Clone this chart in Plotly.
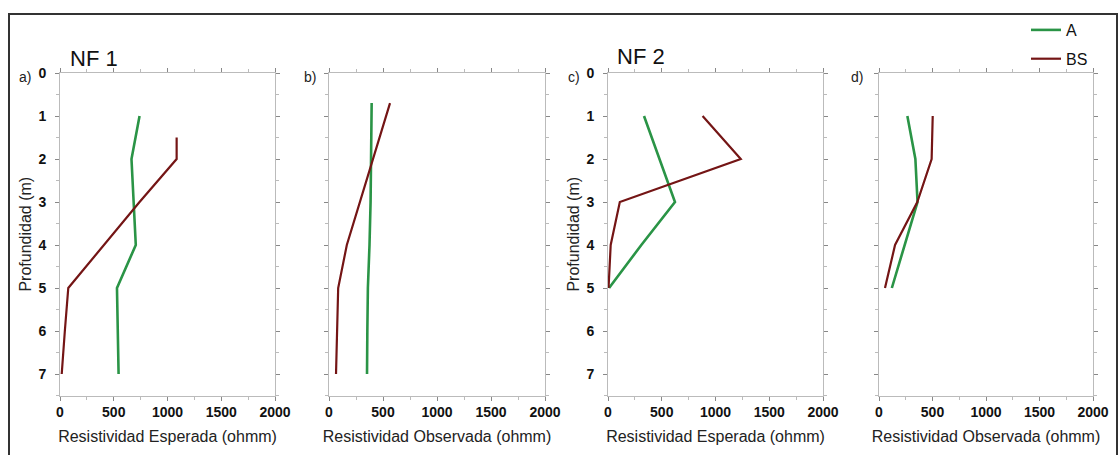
import plotly.graph_objects as go

# ---- data ----
# Panel a: NF 1, Resistividad Esperada
a_A_depth = [1, 2, 3, 4, 5, 6, 7]
a_A_res = [740, 665, 685, 705, 530, 535, 545]
a_BS_depth = [1.5, 2, 3, 4, 5, 6, 7]
a_BS_res = [1085, 1085, 740, 410, 77, 45, 16]

# Panel b: NF 1, Resistividad Observada
b_A_depth = [0.7, 2, 3, 4, 5, 6, 7]
b_A_res = [395, 390, 385, 375, 360, 355, 352]
b_BS_depth = [0.7, 2, 3, 4, 5, 6, 7]
b_BS_res = [565, 410, 290, 165, 85, 72, 65]

# Panel c: NF 2, Resistividad Esperada
c_A_depth = [1, 2, 3, 4, 5]
c_A_res = [335, 480, 623, 310, 10]
c_BS_depth = [1, 2, 3, 4, 5]
c_BS_res = [880, 1235, 110, 25, 5]

# Panel d: NF 2, Resistividad Observada
d_A_depth = [1, 2, 3, 4, 5]
d_A_res = [265, 340, 360, 240, 120]
d_BS_depth = [1, 2, 3, 4, 5]
d_BS_res = [502, 492, 358, 150, 56]

x_ticks = [0, 500, 1000, 1500, 2000]
y_ticks = [0, 1, 2, 3, 4, 5, 6, 7]
panel_letters = ["a)", "b)", "c)", "d)"]
x_titles = ["Resistividad Esperada (ohmm)", "Resistividad Observada (ohmm)",
            "Resistividad Esperada (ohmm)", "Resistividad Observada (ohmm)"]
group_titles = ["NF 1", "NF 2"]

GREEN = "#2a9446"
RED = "#741515"
W, H = 1119, 455
FONT = "Liberation Sans, Arial"

def px_x(p):
    return p / W

def px_y(p):
    return 1 - p / H

panels = [
    (a_A_depth, a_A_res, a_BS_depth, a_BS_res),
    (b_A_depth, b_A_res, b_BS_depth, b_BS_res),
    (c_A_depth, c_A_res, c_BS_depth, c_BS_res),
    (d_A_depth, d_A_res, d_BS_depth, d_BS_res),
]
x_px = [(60, 275), (329, 545), (608, 823), (879, 1093)]
y_dom = [px_y(395.5), px_y(73)]

fig = go.Figure()
for i, (ad, ar, bd, br) in enumerate(panels):
    sfx = "" if i == 0 else str(i + 1)
    fig.add_trace(go.Scatter(x=ar, y=ad, mode="lines", name="A",
                             line=dict(color=GREEN, width=2.6),
                             xaxis="x" + sfx, yaxis="y" + sfx,
                             showlegend=(i == 0), legendgroup="A"))
    fig.add_trace(go.Scatter(x=br, y=bd, mode="lines", name="BS",
                             line=dict(color=RED, width=2.2),
                             xaxis="x" + sfx, yaxis="y" + sfx,
                             showlegend=(i == 0), legendgroup="BS"))

tickfont = dict(family=FONT, size=14, color="#111", weight="bold")
titlefont = dict(family=FONT, size=16, color="#222")

layout = dict(
    template="none",
    width=W, height=H,
    margin=dict(l=0, r=0, t=0, b=0, autoexpand=False),
    paper_bgcolor="white", plot_bgcolor="white",
    showlegend=True,
    legend=dict(x=px_x(1026), y=px_y(13), xanchor="left", yanchor="top",
                font=dict(family=FONT, size=16, color="#111"),
                bgcolor="rgba(0,0,0,0)", tracegroupgap=5),
)
for i in range(4):
    sfx = "" if i == 0 else str(i + 1)
    x0, x1 = x_px[i]
    layout["xaxis" + sfx] = dict(
        domain=[px_x(x0), px_x(x1)], anchor="y" + sfx, automargin=False,
        range=[0, 2000], tickvals=x_ticks, ticks="outside", ticklen=4,
        tickcolor="#888", linecolor="#bbb", linewidth=1, mirror="allticks",
        showgrid=False, zeroline=False, tickfont=tickfont,
        minor=dict(dtick=250, ticks="outside", ticklen=3, tickcolor="#bbb"),
        title=dict(text=x_titles[i], font=titlefont, standoff=11),
    )
    layout["yaxis" + sfx] = dict(
        domain=y_dom, anchor="x" + sfx, automargin=False,
        range=[7.5, 0], tickvals=y_ticks, ticks="outside", ticklen=4,
        tickcolor="#888", linecolor="#bbb", linewidth=1, mirror="allticks",
        showgrid=False, zeroline=False, tickfont=tickfont, ticklabelstandoff=6,
        minor=dict(dtick=0.5, ticks="outside", ticklen=3, tickcolor="#bbb"),
        showticklabels=(i in (0, 2)),
        title=dict(text="Profundidad (m)" if i in (0, 2) else "",
                   font=titlefont, standoff=2),
    )
fig.update_layout(**layout)

# outer frame
fig.add_shape(type="rect", xref="paper", yref="paper",
              x0=px_x(9), x1=px_x(1117), y0=px_y(470), y1=px_y(14),
              line=dict(color="#333", width=2), fillcolor="rgba(0,0,0,0)")

# panel letters
letter_px = [(17, 77), (302, 77), (566, 77), (849, 77)]
for (lx, ly), t in zip(letter_px, panel_letters):
    fig.add_annotation(text=t, x=px_x(lx), y=px_y(ly), xref="paper", yref="paper",
                       xanchor="left", yanchor="middle", showarrow=False,
                       font=dict(family=FONT, size=14, color="#222"))

# group titles
for (gx, gy), t in zip([(68, 59), (615, 56)], group_titles):
    fig.add_annotation(text=t, x=px_x(gx), y=px_y(gy), xref="paper", yref="paper",
                       xanchor="left", yanchor="middle", showarrow=False,
                       font=dict(family=FONT, size=22, color="#111"))

fig.write_html("out.html")
